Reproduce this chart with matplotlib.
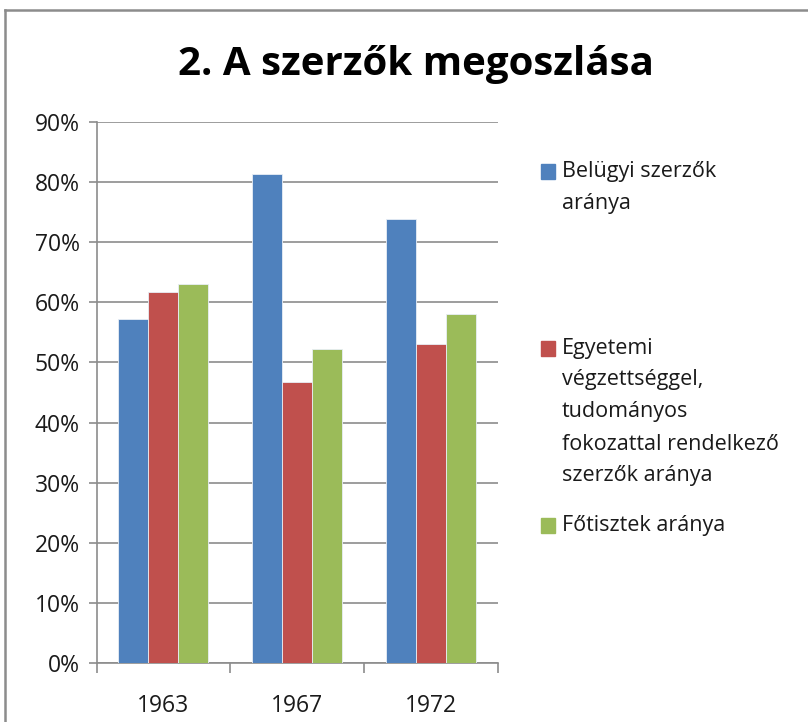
import matplotlib.pyplot as plt
from matplotlib.patches import Rectangle
from matplotlib.lines import Line2D
from matplotlib.ticker import FuncFormatter, FixedLocator
import numpy as np

years = ["1963", "1967", "1972"]
belugyi = [0.573, 0.814, 0.739]
egyetemi = [0.618, 0.468, 0.531]
fotisztek = [0.630, 0.522, 0.580]

series_names = [
    "Belügyi szerzők\naránya",
    "Egyetemi\nvégzettséggel,\ntudományos\nfokozattal rendelkező\nszerzők aránya",
    "Főtisztek aránya",
]
colors = ["#4F81BD", "#C0504D", "#9BBB59"]

plt.rcParams['font.family'] = ['Open Sans', 'DejaVu Sans']

W, H = 808, 722
fig = plt.figure(figsize=(W / 100, H / 100), dpi=100)
ax = fig.add_axes([96.5 / W, 1 - 663 / H, (498 - 96.5) / W, (663 - 122) / H])

x = np.arange(len(years))
bw = 0.224
for i, (vals, c) in enumerate(zip([belugyi, egyetemi, fotisztek], colors)):
    ax.bar(x + (i - 1) * bw, vals, bw, color=c, edgecolor="#e8eef6", linewidth=0.6, zorder=3)

ax.set_xlim(-0.5, 2.5)
ax.set_ylim(0, 0.9)
ax.set_yticks(np.arange(0, 0.91, 0.1))
ax.yaxis.set_major_formatter(FuncFormatter(lambda v, p: f"{round(v * 100)}%"))
ax.grid(axis="y", color="#8c8c8c", linewidth=1.2, zorder=0)

ax.xaxis.set_major_locator(FixedLocator([-0.5, 0.5, 1.5, 2.5]))
ax.xaxis.set_minor_locator(FixedLocator(x))
ax.set_xticklabels([], minor=False)
ax.set_xticklabels(years, minor=True)
ax.tick_params(axis="x", which="major", length=7, color="#8c8c8c", width=1.2)
ax.tick_params(axis="x", which="minor", length=0, pad=22, labelsize=16.5, labelcolor="#1a1a1a")
ax.tick_params(axis="y", length=6, color="#8c8c8c", width=1.2, pad=6, labelsize=16.5, labelcolor="#1a1a1a")

for s in ["top", "right"]:
    ax.spines[s].set_visible(False)
for s in ["left", "bottom"]:
    ax.spines[s].set_color("#8c8c8c")
    ax.spines[s].set_linewidth(1.2)

fig.text(416 / W, 1 - 64 / H, "2. A szerzők megoszlása", ha="center", va="center",
         fontsize=29, fontweight="bold", color="#000000")

# legend drawn by hand to follow the spacing of the original
entry_y = [171.7, 348, 525]
line_h = 32
for name, c, y0 in zip(series_names, colors, entry_y):
    fig.patches.append(Rectangle((541 / W, 1 - (y0 + 7.5) / H), 14 / W, 15 / H,
                                 transform=fig.transFigure, color=c))
    for k, line in enumerate(name.split("\n")):
        fig.text(561.7 / W, 1 - (y0 + k * line_h) / H, line, ha="left", va="center",
                 fontsize=15.5, color="#1a1a1a")

# outer chart border
fig.add_artist(Line2D([5 / W, 5 / W], [0, 1 - 10 / H], transform=fig.transFigure, color="#8c8c8c", lw=1.8))
fig.add_artist(Line2D([5 / W, 1], [1 - 10 / H, 1 - 10 / H], transform=fig.transFigure, color="#8c8c8c", lw=1.8))

fig.savefig("out.png", dpi=100)
